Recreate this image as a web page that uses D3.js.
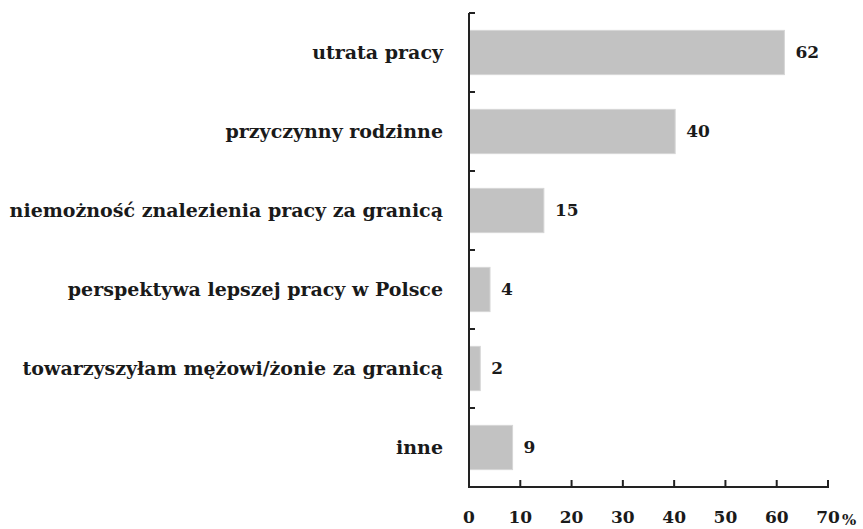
<!DOCTYPE html>
<html>
<head>
<meta charset="utf-8">
<script src="https://cdn.jsdelivr.net/npm/d3@7"></script>
<style>
  body { margin: 0; background: #fff; }
  svg text { font-family: "DejaVu Serif", "Liberation Serif", serif; font-weight: bold; fill: #1a1a1a; }
</style>
</head>
<body>
<div id="chart"></div>
<script>
// categories, top to bottom
const categories = [
  'utrata pracy',
  'przyczynny rodzinne',
  'niemożność znalezienia pracy za granicą',
  'perspektywa lepszej pracy w Polsce',
  'towarzyszyłam mężowi/żonie za granicą',
  'inne'
];
// bar lengths (%)
const values = [61.5, 40.2, 14.6, 4.1, 2.2, 8.5];
// printed value labels
const valueLabels = ['62', '40', '15', '4', '2', '9'];
const xTicks = [0, 10, 20, 30, 40, 50, 60, 70];

const width = 863;
const height = 529;
const margin = { top: 13, right: 35, bottom: 42, left: 469 };

const svg = d3.select('#chart')
  .append('svg')
  .attr('width', width)
  .attr('height', height);

const x = d3.scaleLinear()
  .domain([0, 70])
  .range([margin.left, width - margin.right]);

const y = d3.scaleBand()
  .domain(categories)
  .range([margin.top, height - margin.bottom])
  .paddingInner(0.44)
  .paddingOuter(0.22);

// band edges for the y ticks
const yEdges = d3.scaleBand()
  .domain(categories)
  .range([margin.top, height - margin.bottom]);

// bars
svg.selectAll('.bar')
  .data(values)
  .enter().append('rect')
  .attr('class', 'bar')
  .attr('x', x(0))
  .attr('y', (d, i) => y(categories[i]))
  .attr('width', d => x(d) - x(0))
  .attr('height', y.bandwidth())
  .attr('fill', '#c2c2c2')
  .attr('stroke', '#d6d6d6')
  .attr('stroke-width', 1);

// value labels
svg.selectAll('.val')
  .data(values)
  .enter().append('text')
  .attr('class', 'val')
  .attr('x', d => x(d) + 11)
  .attr('y', (d, i) => y(categories[i]) + y.bandwidth() / 2)
  .attr('dy', '0.35em')
  .style('font-size', '17px')
  .text((d, i) => valueLabels[i]);

// category labels
svg.selectAll('.cat')
  .data(categories)
  .enter().append('text')
  .attr('class', 'cat')
  .attr('x', x(0) - 26)
  .attr('y', d => y(d) + y.bandwidth() / 2)
  .attr('dy', '0.35em')
  .attr('text-anchor', 'end')
  .style('font-size', '19px')
  .text(d => d);

const axisColor = '#222';
const yBottom = height - margin.bottom;

// y axis line with inward ticks
svg.append('line')
  .attr('x1', x(0)).attr('x2', x(0))
  .attr('y1', margin.top).attr('y2', yBottom)
  .attr('stroke', axisColor).attr('stroke-width', 2);

const yTickPos = categories.map(c => yEdges(c));
svg.selectAll('.ytick')
  .data(yTickPos)
  .enter().append('line')
  .attr('x1', x(0)).attr('x2', x(0) + 6)
  .attr('y1', d => d).attr('y2', d => d)
  .attr('stroke', axisColor).attr('stroke-width', 2);

// x axis line with inward ticks
svg.append('line')
  .attr('x1', x(0) - 1).attr('x2', x(70) + 1)
  .attr('y1', yBottom).attr('y2', yBottom)
  .attr('stroke', axisColor).attr('stroke-width', 2);

svg.selectAll('.xtick')
  .data(xTicks.slice(1))
  .enter().append('line')
  .attr('x1', d => x(d)).attr('x2', d => x(d))
  .attr('y1', yBottom).attr('y2', yBottom - 7)
  .attr('stroke', axisColor).attr('stroke-width', 2);

svg.selectAll('.xlab')
  .data(xTicks)
  .enter().append('text')
  .attr('class', 'xlab')
  .attr('x', d => x(d))
  .attr('y', yBottom + 36)
  .attr('text-anchor', 'middle')
  .style('font-size', '17px')
  .text(d => d);

svg.append('text')
  .attr('x', x(70) + 14)
  .attr('y', yBottom + 38)
  .style('font-size', '15px')
  .text('%');
</script>
</body>
</html>
